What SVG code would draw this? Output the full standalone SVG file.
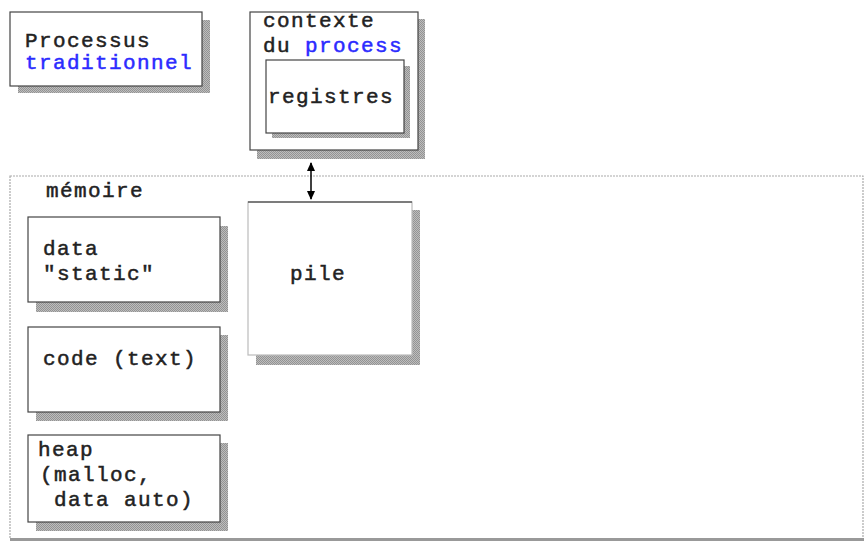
<svg xmlns="http://www.w3.org/2000/svg" width="864" height="545" viewBox="0 0 864 545">
<defs>
<pattern id="hatch" width="2" height="2" patternUnits="userSpaceOnUse">
<rect width="2" height="2" fill="#bdbdbd"/>
<rect width="1" height="1" fill="#939393"/>
<rect x="1" y="1" width="1" height="1" fill="#939393"/>
</pattern>
<marker id="ah" viewBox="0 0 10 10" refX="9" refY="5" markerWidth="9" markerHeight="9" orient="auto-start-reverse" markerUnits="userSpaceOnUse">
<path d="M0,0.5 L10,5 L0,9.5 z" fill="#000"/>
</marker>
</defs>
<style>
text{font-family:"Liberation Mono","Courier New",monospace;font-weight:normal;font-size:21px;letter-spacing:1.4px;fill:#222;stroke:#222;stroke-width:0.5}
.blue{fill:#2b2bff;stroke:#2b2bff}
.shadow{fill:url(#hatch)}
.box{fill:#fff;stroke:#444;stroke-width:1.2}
.mem{fill:#fff;stroke:#aaa;stroke-width:1.2;stroke-dasharray:2 1}
</style>
<rect width="864" height="545" fill="#fff"/>

<g id="processus">
<rect class="shadow" x="18" y="20" width="192" height="73"/>
<rect class="box" x="10" y="12" width="192" height="74"/>
<text x="25" y="47">Processus</text>
<text x="25" y="69" class="blue">traditionnel</text>
</g>

<g id="contexte">
<rect class="shadow" x="257" y="19" width="168" height="140"/>
<rect class="box" x="250" y="12" width="168" height="138"/>
<text x="263" y="27">contexte</text>
<text x="263" y="52">du <tspan class="blue">process</tspan></text>
</g>

<g id="registres">
<rect class="shadow" x="272" y="66" width="138" height="72"/>
<rect class="box" x="266" y="60" width="138" height="73"/>
<text x="268" y="103">registres</text>
</g>

<g id="memoire">
<rect class="mem" x="10" y="176" width="853" height="363"/>
<line x1="10" y1="539.5" x2="864" y2="539.5" stroke="#999" stroke-width="3"/>
<text x="46" y="197">mémoire</text>
</g>

<g id="data">
<rect class="shadow" x="36" y="226" width="192" height="86"/>
<rect class="box" x="28" y="217" width="192" height="85"/>
<text x="43" y="255">data</text>
<text x="43" y="280">"static"</text>
</g>

<g id="code">
<rect class="shadow" x="36" y="335" width="192" height="86"/>
<rect class="box" x="28" y="327" width="192" height="85"/>
<text x="43" y="365">code (text)</text>
</g>

<g id="heap">
<rect class="shadow" x="36" y="443" width="192" height="88"/>
<rect class="box" x="28" y="435" width="192" height="87"/>
<text x="38" y="456">heap</text>
<text x="40" y="481">(malloc,</text>
<text x="54" y="506">data auto)</text>
</g>

<g id="pile">
<rect class="shadow" x="256" y="210" width="164" height="155"/>
<rect class="box" x="248" y="202" width="164" height="153" style="stroke:#bbb"/>
<line x1="248" y1="202" x2="412" y2="202" stroke="#222" stroke-width="1.2"/>
<text x="290" y="280">pile</text>
</g>

<g id="connectors">
<line x1="311" y1="163" x2="311" y2="199" stroke="#000" stroke-width="1.5" marker-start="url(#ah)" marker-end="url(#ah)"/>
</g>
</svg>
